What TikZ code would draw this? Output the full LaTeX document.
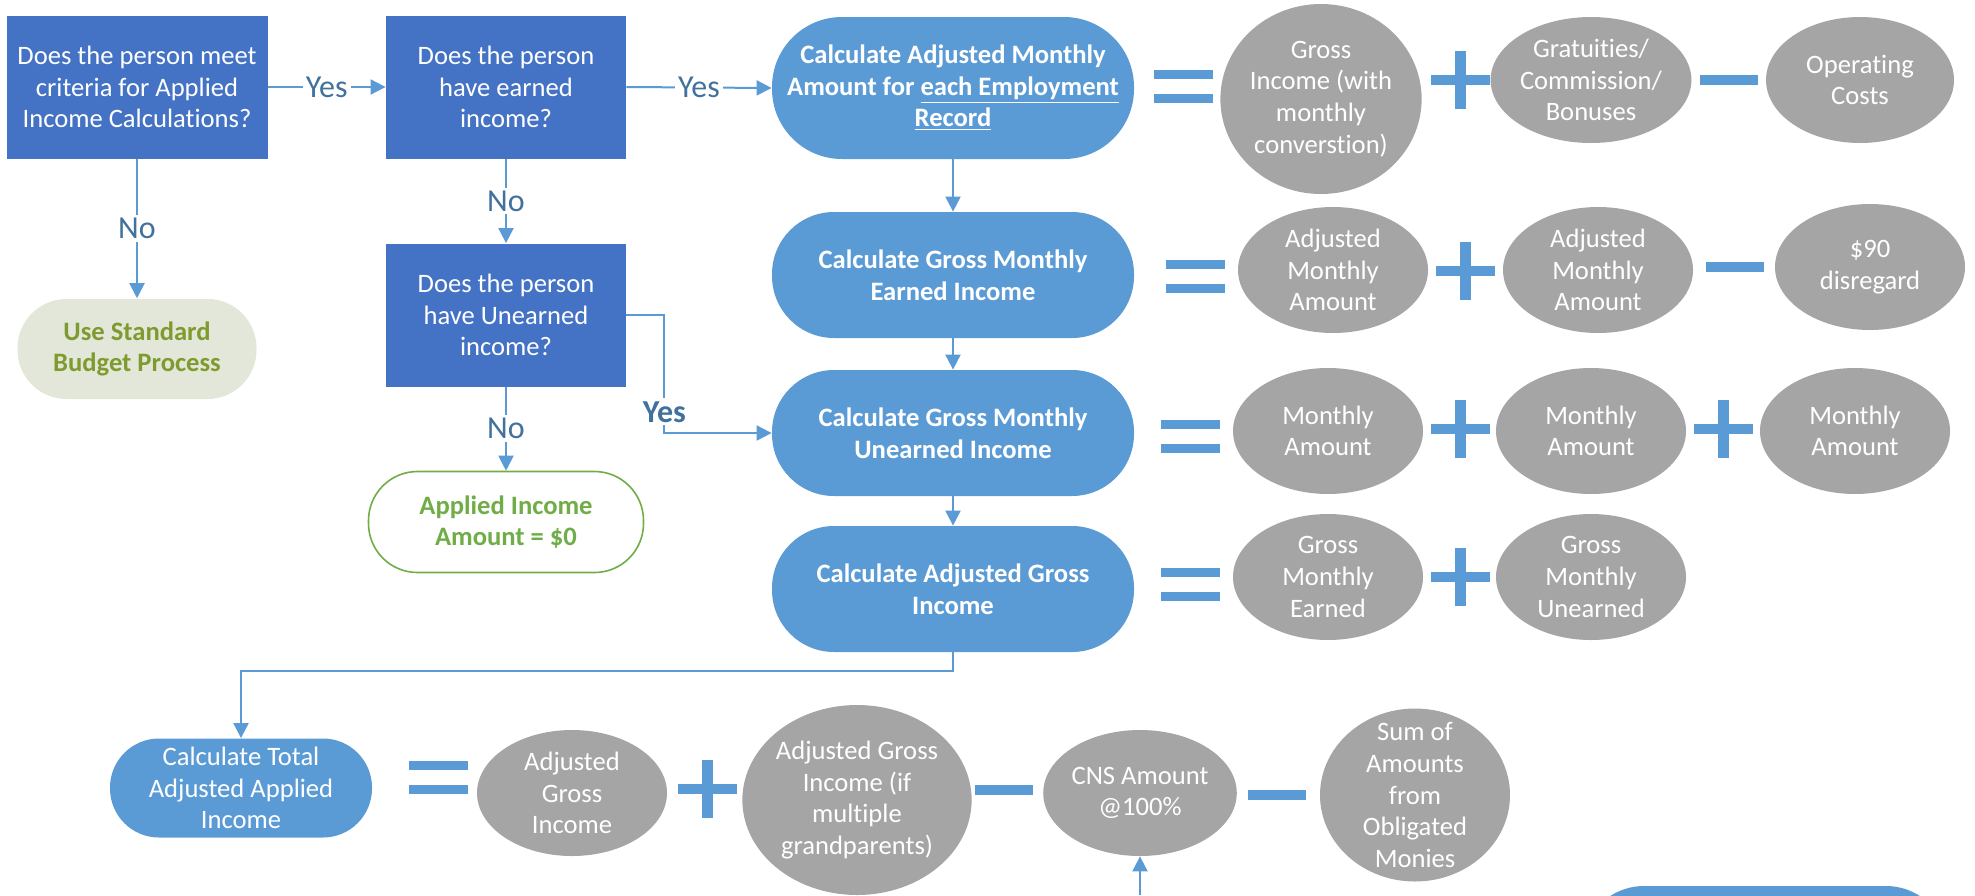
\documentclass[tikz,border=0pt]{standalone}
\usepackage{fontspec}
\setmainfont[Ligatures=NoCommon]{Carlito}
\usetikzlibrary{arrows.meta,shapes.geometric}

\definecolor{darkbox}{HTML}{4472C4}
\definecolor{calcblue}{HTML}{5B9BD5}
\definecolor{opgray}{HTML}{A5A5A5}
\definecolor{lblblue}{HTML}{41719C}
\definecolor{stdfill}{HTML}{E2E7DA}
\definecolor{stdtext}{HTML}{7F9B2E}
\definecolor{zerogreen}{HTML}{70AD47}

\tikzset{
  decision/.style={rectangle, fill=darkbox, text=white, align=center, inner sep=0pt, minimum height=71.5pt, minimum width=120pt},
  calc/.style={rectangle, rounded corners=31pt, fill=calcblue, text=white, align=center, inner sep=0pt,
    font=\bfseries\fontsize{13.3}{15.8}\selectfont, minimum width=181pt, minimum height=63pt},
  term/.style={rectangle, rounded corners=24.5pt, align=center, inner sep=0pt, line width=0.8pt,
    font=\bfseries\fontsize{13.3}{15.8}\selectfont},
  opnd/.style={ellipse, fill=opgray, text=white, align=center, inner sep=0pt, minimum width=95pt, minimum height=63pt},
  conn/.style={draw=calcblue, line width=1pt, -{Triangle[length=7.5pt,width=7.5pt]}},
  lbl/.style={fill=white, text=lblblue, inner sep=1.5pt, font=\fontsize{16}{19}\selectfont},
  eqop/.pic={\fill[calcblue] (-29.5,-16.5) rectangle (29.5,-7.5);
             \fill[calcblue] (-29.5,7.5) rectangle (29.5,16.5);},
  plusop/.pic={\fill[calcblue] (-29.5,-5) rectangle (29.5,5);
               \fill[calcblue] (-5.5,-29) rectangle (5.5,29);},
  minusop/.pic={\fill[calcblue] (-29,-5) rectangle (29,5);}
}

\begin{document}
\begin{tikzpicture}[x=0.5pt, y=-0.5pt, font=\fontsize{13.3}{15.8}\selectfont]
	\clip (0,0) rectangle (1975,895);

	% questions
	\node [decision, minimum width=130.5pt] (meet) at (137,87) {Does the person meet\\criteria for Applied\\Income Calculations?};
	\node [decision] (earned) at (506,87) {Does the person\\have earned\\income?};
	\node [decision] (unearned) at (506,315) {Does the person\\have Unearned\\income?};
	\node [term, fill=stdfill, text=stdtext, minimum width=119.5pt, minimum height=50pt] (standard) at (137,349) {Use Standard\\Budget Process};
	\node [term, draw=zerogreen, fill=white, text=zerogreen, minimum width=137.5pt, minimum height=50.5pt] (zero) at (506,522) {Applied Income\\Amount = \$0};

	% calculations
	\node [calc, minimum height=71pt, rounded corners=35pt] (adjmonthly) at (953,88) {Calculate Adjusted Monthly\\Amount for \underline{each Employment}\\\underline{Record}};
	\node [calc] (grossearned) at (953,275) {Calculate Gross Monthly\\Earned Income};
	\node [calc] (grossunearned) at (953,433) {Calculate Gross Monthly\\Unearned Income};
	\node [calc] (adjgross) at (953,589) {Calculate Adjusted Gross\\Income};
	\node [calc, font=\fontsize{13.3}{15.8}\selectfont, minimum width=131pt, minimum height=49.5pt, rounded corners=24.5pt] (total) at (241,788) {Calculate Total\\Adjusted Applied\\Income};
	\node [calc, minimum width=183pt] (nextcalc) at (1765,949) {};

	% operands
	\node [opnd, minimum width=96pt, minimum height=95pt] (grossinc) at (1321,99) {Gross\\Income (with\\monthly\\converstion)};
	\node [opnd] (gratuities) at (1591,80) {Gratuities/\\Commission/\\Bonuses};
	\node [opnd, minimum width=94pt] (opcosts) at (1860,80) {Operating\\Costs};
	\node [opnd] (adjamtA) at (1333,270) {Adjusted\\Monthly\\Amount};
	\node [opnd] (adjamtB) at (1598,270) {Adjusted\\Monthly\\Amount};
	\node [opnd] (disregard) at (1870,267) {\$90\\disregard};
	\node [opnd] (monamtA) at (1328,431) {Monthly\\Amount};
	\node [opnd] (monamtB) at (1591,431) {Monthly\\Amount};
	\node [opnd] (monamtC) at (1855,431) {Monthly\\Amount};
	\node [opnd] (gmearned) at (1328,577) {Gross\\Monthly\\Earned};
	\node [opnd] (gmunearned) at (1591,577) {Gross\\Monthly\\Unearned};
	\node [opnd] (adjgrossinc) at (572,793) {Adjusted\\Gross\\Income};
	\node [opnd, minimum width=113.5pt, minimum height=95pt] (multigp) at (857,800) {Adjusted Gross\\Income (if\\multiple\\grandparents)};
	\node [opnd] (cns) at (1140,793) {CNS Amount\\@100\%};
	\node [opnd, minimum height=86.5pt, inner ysep=-8pt] (obligated) at (1415,795) {Sum of\\Amounts\\from\\Obligated\\Monies};

	% operators
	\pic at (1183,86) {eqop};
	\pic at (1460,80) {plusop};
	\pic at (1729,80) {minusop};
	\pic at (1195,276) {eqop};
	\pic at (1465,271) {plusop};
	\pic at (1735,267) {minusop};
	\pic at (1190,436) {eqop};
	\pic at (1460,429) {plusop};
	\pic at (1723,429) {plusop};
	\pic at (1190,584) {eqop};
	\pic at (1460,577) {plusop};
	\pic at (438,777) {eqop};
	\pic at (707,789) {plusop};
	\pic at (1004,790) {minusop};
	\pic at (1277,795) {minusop};

	% connectors
	\draw [conn] (meet.east) -- node [lbl] {Yes} (earned.west);
	\draw [conn] (earned.east) -- node [lbl] {Yes} (adjmonthly.west);
	\draw [conn] (meet.south) -- node [lbl] {No} (standard.north);
	\draw [conn] (earned.south) -- node [lbl] {No} (unearned.north);
	\draw [conn] (unearned.south) -- node [lbl] {No} (zero.north);
	\draw [conn] (unearned.east) -- ++(38,0) |- node [lbl, pos=0.41, font=\bfseries\fontsize{16}{19}\selectfont] {Yes} (grossunearned.west);
	\draw [conn] (adjmonthly.south) -- (grossearned.north);
	\draw [conn] (grossearned.south) -- (grossunearned.north);
	\draw [conn] (grossunearned.south) -- (adjgross.north);
	\draw [conn] (adjgross.south) -- ++(0,19) -| (total.north);
	\coordinate (cnsfeed) at (1140,895);
	\draw [conn] (cnsfeed) -- (cns.south);
\end{tikzpicture}
\end{document}
